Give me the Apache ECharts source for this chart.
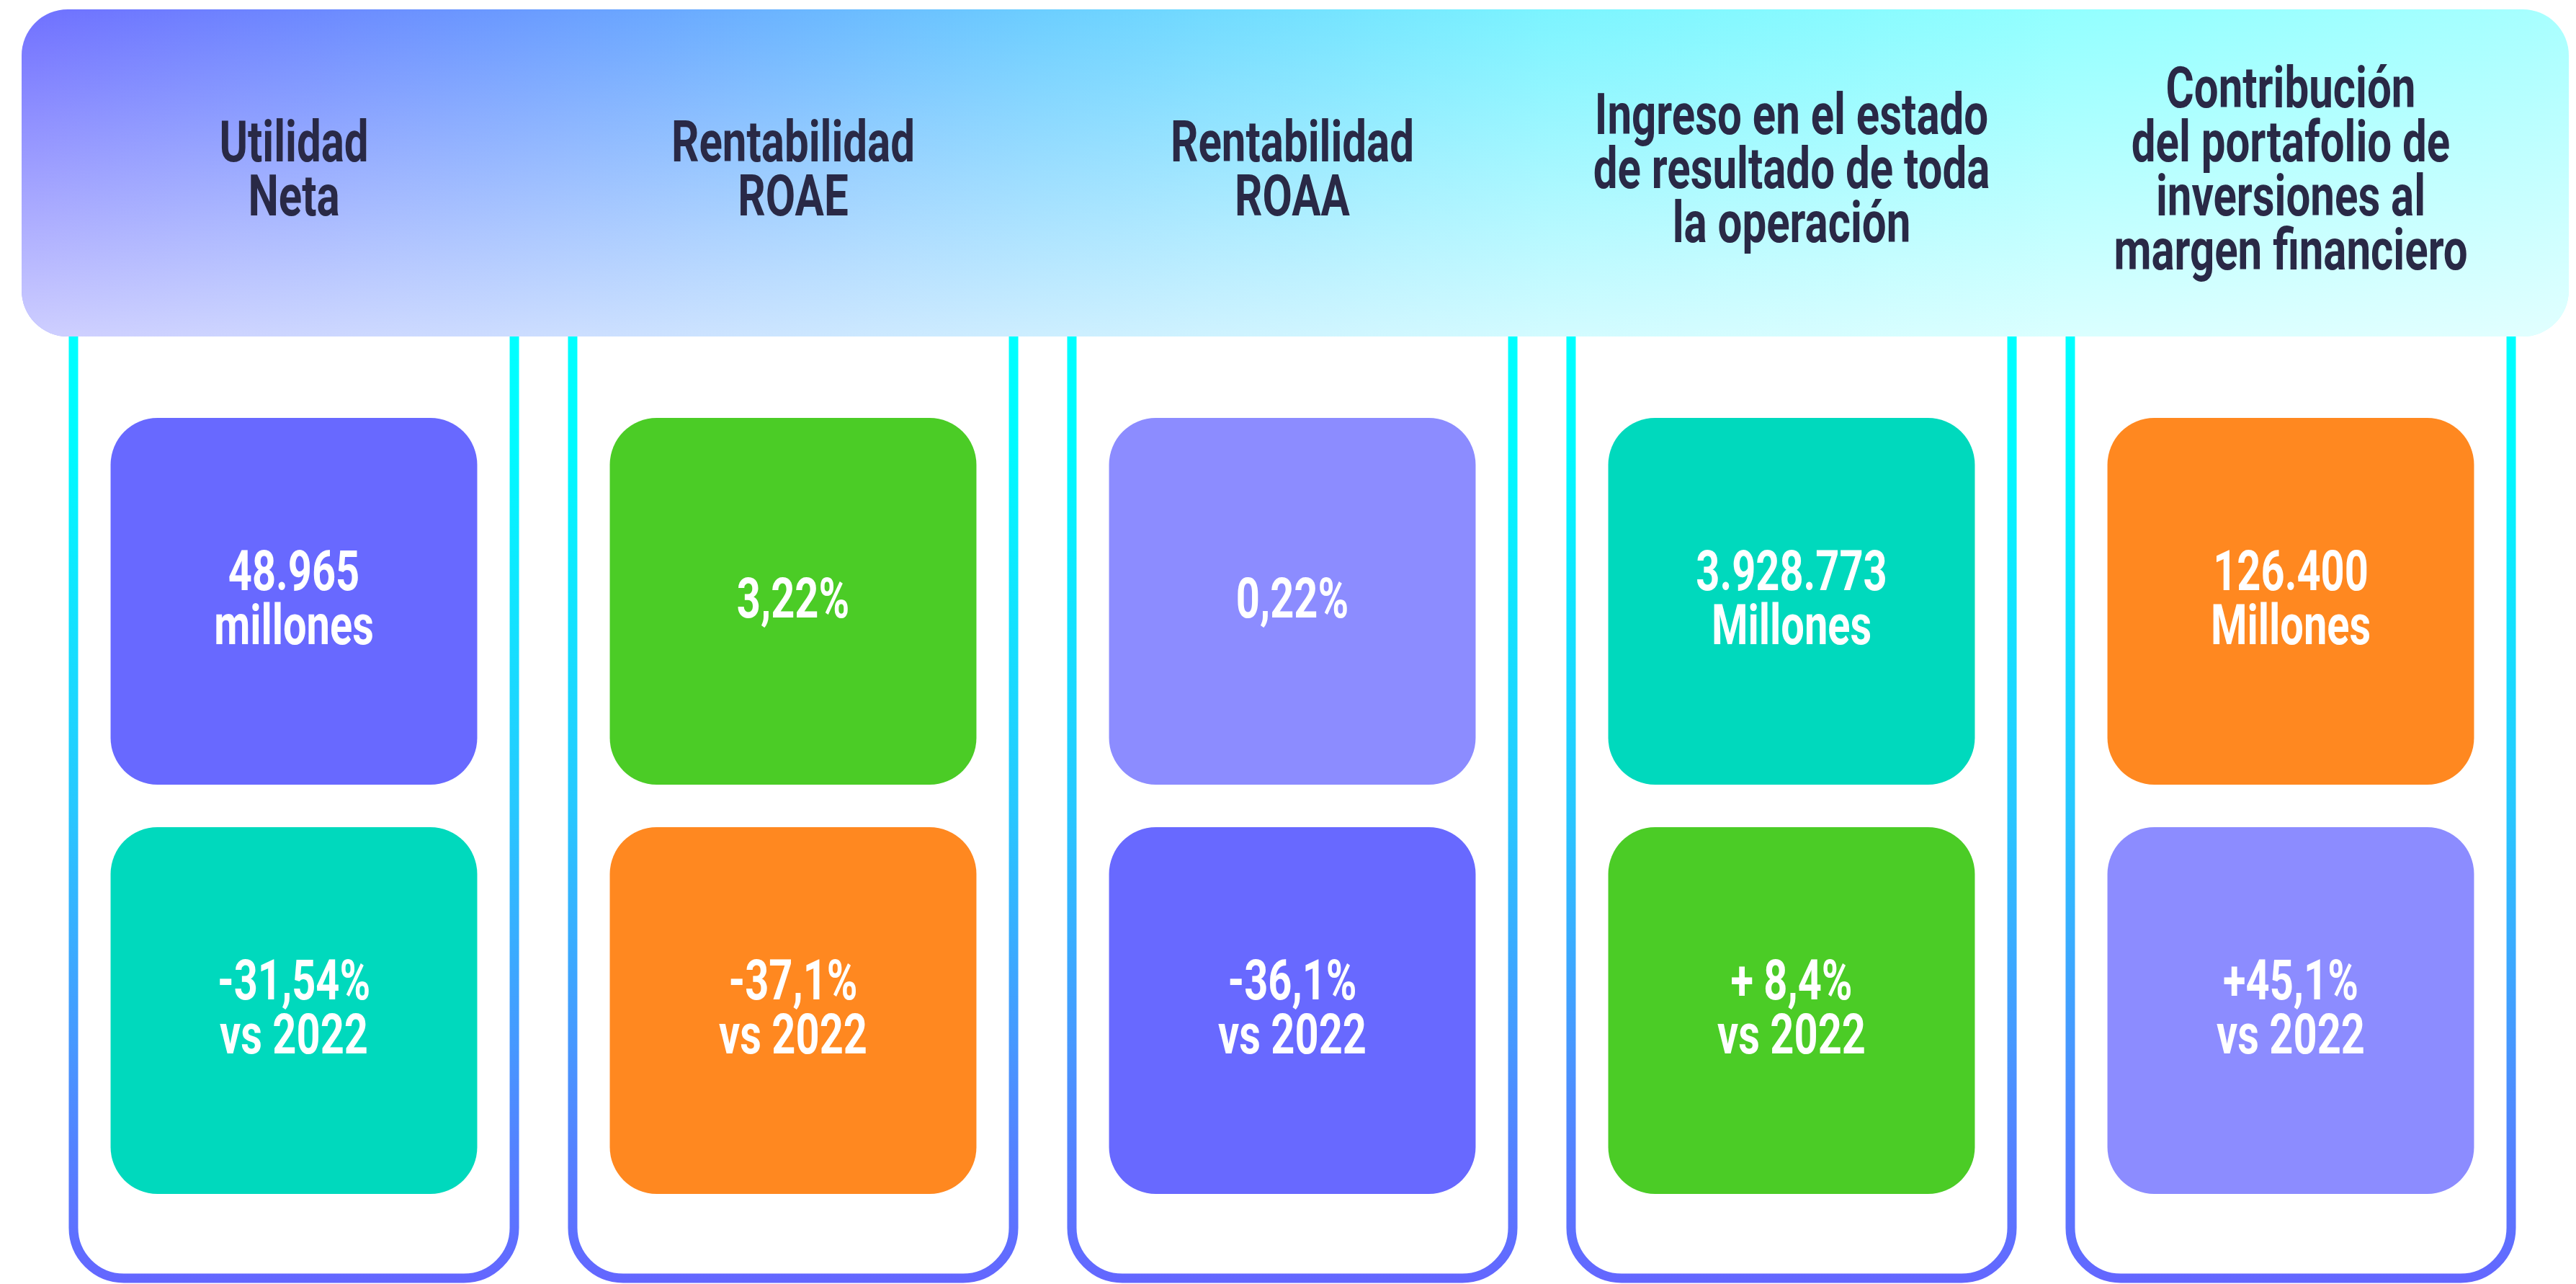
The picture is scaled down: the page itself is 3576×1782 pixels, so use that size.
<!DOCTYPE html>
<html>
<head>
<meta charset="utf-8">
<script src="https://cdn.jsdelivr.net/npm/echarts@6/dist/echarts.min.js"></script>
<style>
html,body{margin:0;padding:0;background:#ffffff;}
#c{width:3576px;height:1782px;}
</style>
</head>
<body>
<div id="c"></div>
<script>
// ---------- DATA ----------
const categories = [
  "Utilidad\nNeta",
  "Rentabilidad\nROAE",
  "Rentabilidad\nROAA",
  "Ingreso en el estado\nde resultado de toda\nla operación",
  "Contribución\ndel portafolio de\ninversiones al\nmargen financiero"
];
const valueTexts = ["48.965", "3,22%", "0,22%", "3.928.773", "126.400"];
const valueUnits = ["millones", "", "", "Millones", "Millones"];
const changeTexts = ["-31,54%", "-37,1%", "-36,1%", "+ 8,4%", "+45,1%"];
const changeSuffix = "vs 2022";

// ---------- STYLE ----------
const topColors = ["#6869FF", "#4BCC26", "#8C8CFF", "#00D9BD", "#FF8820"];
const bottomColors = ["#00D9BD", "#FF8820", "#6869FF", "#4BCC26", "#8C8CFF"];
const titleColor = "#292946";
const FONT = "Roboto";
const SCALE_X = 0.75;

// layout (in y-axis units)
const L = {
  headerBottom: 467,
  cardBottom: 1774,
  box1Top: 580, box1Bottom: 1089,
  box2Top: 1148, box2Bottom: 1657,
  titleCenter: 241,
  textShift: 3
};

const chart = echarts.init(document.getElementById('c'), null, {renderer: 'canvas', width: 3576, height: 1782});

const idxData = categories.map((c, i) => [i]);

function renderCard(params, api) {
  const i = api.value(0);
  const cx = api.coord([i, 0])[0];
  const band = api.size([1, 0])[0];
  const y = v => api.coord([i, v])[1];
  const cardHalf = band * 0.4416;
  const boxHalf = band * 0.3672;
  const r = 70;
  const x1 = cx - cardHalf, x2 = cx + cardHalf;
  const top = y(L.headerBottom), bot = y(L.cardBottom);
  const pathData = 'M' + x1 + ' ' + top + ' L' + x1 + ' ' + (bot - r) +
    ' A' + r + ' ' + r + ' 0 0 0 ' + (x1 + r) + ' ' + bot +
    ' L' + (x2 - r) + ' ' + bot +
    ' A' + r + ' ' + r + ' 0 0 0 ' + x2 + ' ' + (bot - r) +
    ' L' + x2 + ' ' + top;
  const children = [];
  children.push({
    type: 'path',
    shape: {pathData: pathData},
    style: {
      fill: null,
      lineWidth: 13,
      stroke: {
        type: 'linear', x: 0, y: 0, x2: 0, y2: 1,
        colorStops: [
          {offset: 0, color: '#00FFFF'},
          {offset: 0.12, color: '#00FAFF'},
          {offset: 0.5, color: '#27C8FF'},
          {offset: 0.78, color: '#4A92FF'},
          {offset: 1, color: '#6466FF'}
        ]
      }
    }
  });
  const b1t = y(L.box1Top), b1b = y(L.box1Bottom);
  const b2t = y(L.box2Top), b2b = y(L.box2Bottom);
  children.push({type: 'rect', shape: {x: cx - boxHalf, y: b1t, width: 2 * boxHalf, height: b1b - b1t, r: 65}, style: {fill: topColors[i]}});
  children.push({type: 'rect', shape: {x: cx - boxHalf, y: b2t, width: 2 * boxHalf, height: b2b - b2t, r: 65}, style: {fill: bottomColors[i]}});
  const vText = valueUnits[i] ? valueTexts[i] + '\n' + valueUnits[i] : valueTexts[i];
  const cText = changeTexts[i] + '\n' + changeSuffix;
  [[vText, (b1t + b1b) / 2 + L.textShift], [cText, (b2t + b2b) / 2 + L.textShift]].forEach(function (t) {
    children.push({
      type: 'text', x: cx, y: t[1], scaleX: SCALE_X,
      style: {
        text: t[0], x: 0, y: 0, fill: '#FFFFFF',
        fontFamily: FONT, fontWeight: 'bold', fontSize: 77, lineHeight: 75,
        align: 'center', verticalAlign: 'middle',
        textAlign: 'center', textVerticalAlign: 'middle'
      }
    });
  });
  return {type: 'group', children: children};
}

function renderTitle(params, api) {
  const i = api.value(0);
  const cx = api.coord([i, 0])[0];
  const cy = api.coord([i, L.titleCenter])[1];
  return {
    type: 'text', x: cx, y: cy, scaleX: SCALE_X,
    style: {
      text: categories[i], x: 0, y: 0, fill: titleColor,
      fontFamily: FONT, fontWeight: 'bold', fontSize: 80, lineHeight: 75,
      align: 'center', verticalAlign: 'middle',
      textAlign: 'center', textVerticalAlign: 'middle'
    }
  };
}

const option = {
  backgroundColor: '#ffffff',
  animation: false,
  grid: {left: 61.5, right: 49.5, top: 0, bottom: 0, containLabel: false},
  xAxis: {type: 'category', data: categories, show: false, boundaryGap: true},
  yAxis: {type: 'value', min: 0, max: 1782, inverse: true, show: false},
  graphic: {
    elements: [
      {
        type: 'rect', z: 50, zlevel: 0,
        shape: {x: 30, y: 13, width: 3536, height: 454, r: 64},
        style: {
          fill: {
            type: 'linear', x: 0, y: 0, x2: 1, y2: 0,
            colorStops: [
              {offset: 0, color: '#7070FF'},
              {offset: 0.2, color: '#6A9CFF'},
              {offset: 0.4, color: '#6CCEFF'},
              {offset: 0.6, color: '#7CF4FF'},
              {offset: 0.8, color: '#92FFFF'},
              {offset: 1, color: '#A8FFFF'}
            ]
          }
        }
      },
      {
        type: 'rect', z: 51, zlevel: 0,
        shape: {x: 30, y: 13, width: 3536, height: 454, r: 64},
        style: {
          fill: {
            type: 'linear', x: 0, y: 0, x2: 0, y2: 1,
            colorStops: [
              {offset: 0, color: 'rgba(255,255,255,0)'},
              {offset: 1, color: 'rgba(255,255,255,0.66)'}
            ]
          }
        }
      }
    ]
  },
  series: [
    {type: 'custom', z: 10, data: idxData, renderItem: renderCard, encode: {x: 0}, clip: false},
    {type: 'custom', z: 100, data: idxData, renderItem: renderTitle, encode: {x: 0}, clip: false}
  ]
};
chart.setOption(option);
</script>
</body>
</html>
